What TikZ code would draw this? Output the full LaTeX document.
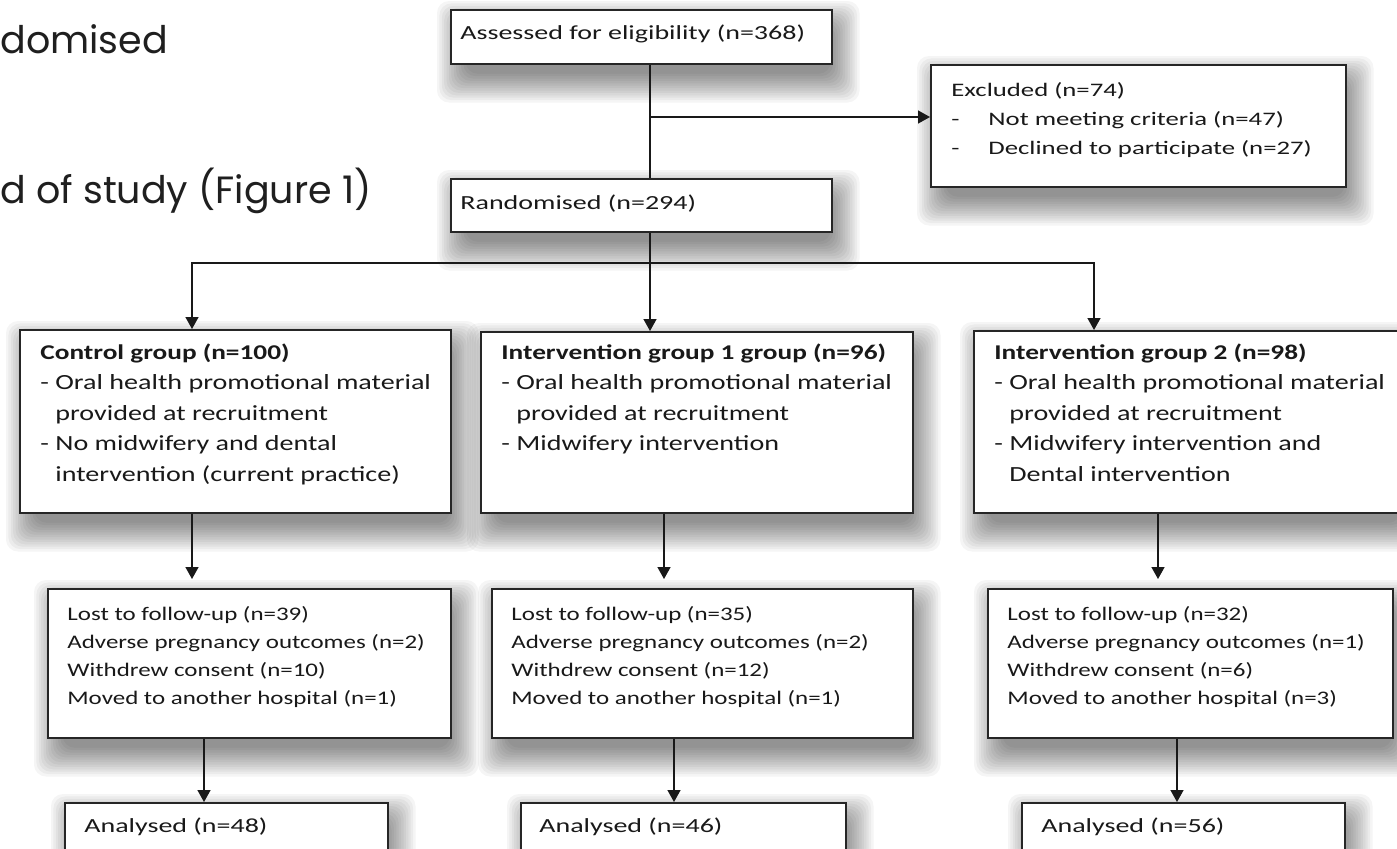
\documentclass[tikz,border=0pt]{standalone}
\usepackage{fontspec}
\newfontfamily\hdfont{Carlito}[FakeStretch=1.4]
\newfontfamily\bxfont{Carlito}[FakeStretch=1.3]
\newfontfamily\slfont{Poppins}
\usetikzlibrary{arrows.meta,backgrounds}
\newcommand\softshadow[1]{%
  \foreach \k [evaluate=\k as \e using 10-1.2*\k] in {0,...,12}{%
    \fill[black, opacity=0.038, rounded corners=6pt]
      ([shift={(3.5pt-\e pt,-9pt-\e pt)}]#1.south west) rectangle
      ([shift={(3.5pt+\e pt,-6pt+\e pt)}]#1.north east);
  }%
}
\begin{document}
\begin{tikzpicture}[x=0.5pt,y=-0.5pt,
  box/.style={draw=black!85, line width=0.75pt, fill=white, anchor=north west, inner sep=0pt},
  txt/.style={anchor=base west, inner sep=0pt, text=black!90},
  hd/.style={txt, font=\hdfont\fontsize{10}{14.5}\selectfont},
  ex/.style={txt, font=\hdfont\fontsize{9.55}{14.5}\selectfont},
  gp/.style={txt, font=\bxfont\fontsize{10.8}{15.25}\selectfont},
  lf/.style={txt, font=\bxfont\fontsize{9.6}{14}\selectfont},
  arr/.style={line width=0.75pt, draw=black!90, -{Triangle[length=6pt,width=6.5pt]}},
  ln/.style={line width=0.75pt, draw=black!90},
  side/.style={txt, font=\slfont\fontsize{19}{24}\selectfont, text=black!88},
]
\useasboundingbox (0,0) rectangle (1397,848);

% side text (cut off at the left edge)
\node[side] (s1) at (0,53) {domised};
\node[side] (s2) at (0,203) {d of study (Figure 1)};

% boxes
\node[box, minimum width=190.5pt, minimum height=27pt] (assess) at (450,9) {};
\node[box, minimum width=207.5pt, minimum height=61pt] (excl) at (930,64) {};
\node[box, minimum width=190.5pt, minimum height=26.5pt] (rand) at (450,178) {};
\node[box, minimum width=215.5pt, minimum height=91.5pt] (ctrl) at (19,329) {};
\node[box, minimum width=216pt, minimum height=90.5pt] (int1) at (480,331) {};
\node[box, minimum width=214pt, minimum height=91pt] (int2) at (973,330) {};
\node[box, minimum width=201.5pt, minimum height=74.5pt] (lost1) at (47,588) {};
\node[box, minimum width=210.5pt, minimum height=74.5pt] (lost2) at (491,588) {};
\node[box, minimum width=202.5pt, minimum height=74.5pt] (lost3) at (987,588) {};
\node[box, minimum width=161.5pt, minimum height=40pt] (an1) at (64,802) {};
\node[box, minimum width=162.5pt, minimum height=40pt] (an2) at (520,802) {};
\node[box, minimum width=161.5pt, minimum height=40pt] (an3) at (1021,802) {};

% soft shadows behind the boxes
\begin{scope}[on background layer]
  \fill[white] (0,0) rectangle (1397,848);
  \softshadow{assess}\softshadow{excl}\softshadow{rand}
  \softshadow{ctrl}\softshadow{int1}\softshadow{int2}
  \softshadow{lost1}\softshadow{lost2}\softshadow{lost3}
  \softshadow{an1}\softshadow{an2}\softshadow{an3}
\end{scope}

% texts
\node[hd] (assesst) at (460,39) {Assessed for eligibility (n=368)};
\node[ex] (exclt) at (951,96) {\parbox[t]{200pt}{Excluded (n=74)\\
  \makebox[18.5pt][l]{-}Not meeting criteria (n=47)\\
  \makebox[18.5pt][l]{-}Declined to participate (n=27)}};
\node[hd] (randt) at (460,209) {Randomised (n=294)};

\node[gp] (ctrlt) at (40,359) {\parbox[t]{214pt}{{\fontsize{10.5}{15.25}\selectfont\bfseries Control group (n=100)}\\
  \makebox[7.5pt][l]{-}Oral health promotional material\\
  \hspace*{7.5pt}provided at recruitment\\
  \makebox[7.5pt][l]{-}No midwifery and dental\\
  \hspace*{7.5pt}intervention (current practice)}};
\node[gp] (int1t) at (501,359) {\parbox[t]{214pt}{{\fontsize{10.5}{15.25}\selectfont\bfseries Intervention group 1 group (n=96)}\\
  \makebox[7.5pt][l]{-}Oral health promotional material\\
  \hspace*{7.5pt}provided at recruitment\\
  \makebox[7.5pt][l]{-}Midwifery intervention}};
\node[gp] (int2t) at (994,359) {\parbox[t]{214pt}{{\fontsize{10.5}{15.25}\selectfont\bfseries Intervention group 2 (n=98)}\\
  \makebox[7.5pt][l]{-}Oral health promotional material\\
  \hspace*{7.5pt}provided at recruitment\\
  \makebox[7.5pt][l]{-}Midwifery intervention and\\
  \hspace*{7.5pt}Dental intervention}};

\node[lf] (lost1t) at (67,620) {\parbox[t]{200pt}{Lost to follow-up (n=39)\\
  Adverse pregnancy outcomes (n=2)\\ Withdrew consent (n=10)\\ Moved to another hospital (n=1)}};
\node[lf] (lost2t) at (511,620) {\parbox[t]{200pt}{Lost to follow-up (n=35)\\
  Adverse pregnancy outcomes (n=2)\\ Withdrew consent (n=12)\\ Moved to another hospital (n=1)}};
\node[lf] (lost3t) at (1007,620) {\parbox[t]{200pt}{Lost to follow-up (n=32)\\
  Adverse pregnancy outcomes (n=1)\\ Withdrew consent (n=6)\\ Moved to another hospital (n=3)}};

\node[hd] (an1t) at (84,832) {Analysed (n=48)};
\node[hd] (an2t) at (539,832) {Analysed (n=46)};
\node[hd] (an3t) at (1041,832) {Analysed (n=56)};

% guide coordinates
\coordinate (cx) at (650,0);
\coordinate (br) at (650,117);
\coordinate (hl) at (650,263);
\coordinate (a1) at (192,0);
\coordinate (a3) at (1094,0);
\coordinate (b1) at (192,0);
\coordinate (b2) at (664,0);
\coordinate (b3) at (1158,0);
\coordinate (c1) at (204,0);
\coordinate (c2) at (674,0);
\coordinate (c3) at (1177,0);

% connectors
\draw[ln] (assess.south -| cx) -- (rand.north -| cx);
\draw[arr] (br) -- (br -| excl.west);
\draw[arr] (rand.south -| cx) -- (int1.north -| cx);
\draw[arr] (hl) -| (ctrl.north -| a1);
\draw[arr] (hl) -| (int2.north -| a3);

\draw[arr] (ctrl.south -| b1) -- ([yshift=4.5pt]lost1.north -| b1);
\draw[arr] (int1.south -| b2) -- ([yshift=4.5pt]lost2.north -| b2);
\draw[arr] (int2.south -| b3) -- ([yshift=4.5pt]lost3.north -| b3);

\draw[arr] (lost1.south -| c1) -- (an1.north -| c1);
\draw[arr] (lost2.south -| c2) -- (an2.north -| c2);
\draw[arr] (lost3.south -| c3) -- (an3.north -| c3);
\end{tikzpicture}
\end{document}
